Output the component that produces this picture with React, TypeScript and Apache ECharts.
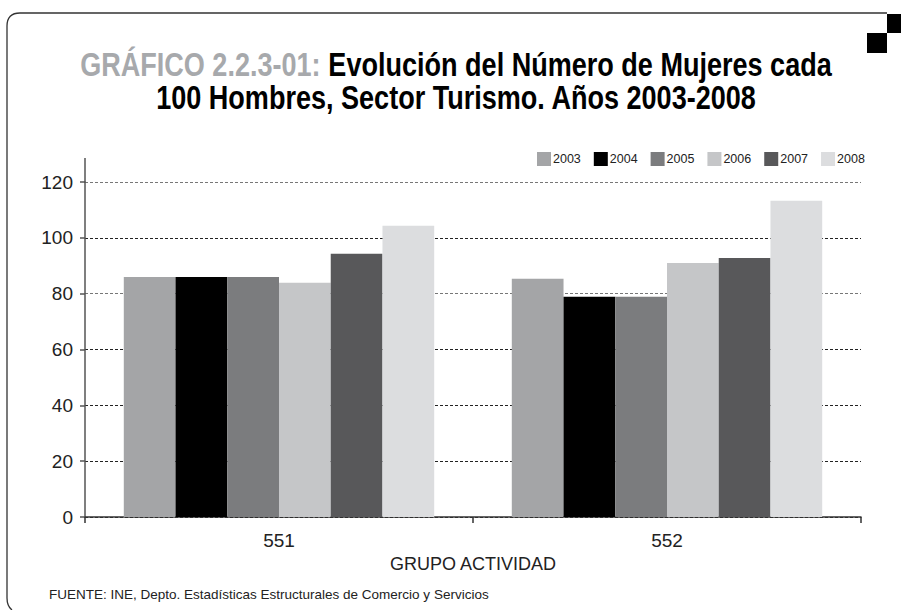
import React, { useEffect, useRef } from "react";
import * as echarts from "echarts";

const categories = ["551", "552"];
const years = ["2003", "2004", "2005", "2006", "2007", "2008"];
const v2003 = [86.0, 85.3];
const v2004 = [86.0, 78.9];
const v2005 = [86.0, 78.9];
const v2006 = [83.9, 91.0];
const v2007 = [94.3, 92.8];
const v2008 = [104.3, 113.3];
const seriesValues = [v2003, v2004, v2005, v2006, v2007, v2008];
const colors = ["#a4a5a7", "#000000", "#7b7c7e", "#c5c6c8", "#58585a", "#dcdddf"];
const yTicks = [0, 20, 40, 60, 80, 100, 120];

const SANS = '"Liberation Sans", Arial, sans-serif';

let registered = false;

export default function App() {
  const ref = useRef<HTMLDivElement>(null);
  useEffect(() => {
    if (!ref.current) return;
    if (!registered) {
      echarts.graphic.registerShape(
        "frame",
        echarts.graphic.extendPath("M12 610 Q7 606 7 598 L7 26 Q7 13 20 13 L887 13", {})
      );
      registered = true;
    }
    const chart = echarts.init(ref.current, null, { renderer: "svg" });
    chart.setOption({
      animation: false,
      backgroundColor: "#ffffff",
      legend: {
        left: 532,
        top: 147,
        itemWidth: 14,
        itemHeight: 14,
        itemGap: 13,
        icon: "rect",
        data: years,
        textStyle: { fontFamily: SANS, fontSize: 12.5, color: "#222", padding: [0, 0, 0, -3] },
      },
      grid: { left: 85, right: 40, top: 182, bottom: 93, containLabel: false },
      xAxis: {
        type: "category",
        data: categories,
        name: "GRUPO ACTIVIDAD",
        nameLocation: "middle",
        nameGap: 28,
        nameTextStyle: { fontFamily: SANS, fontSize: 18, color: "#222" },
        axisLine: { lineStyle: { color: "#333", width: 1.5 } },
        axisTick: { show: true, length: 6, lineStyle: { color: "#333", width: 1.5 } },
        axisLabel: { fontFamily: SANS, fontSize: 19, color: "#222", margin: 14 },
      },
      yAxis: {
        type: "value",
        min: 0,
        max: 120,
        interval: 20,
        axisLine: { show: true, lineStyle: { color: "#555", width: 1.5 } },
        axisTick: { show: true, length: 5, lineStyle: { color: "#555", width: 1.5 } },
        axisLabel: {
          fontFamily: SANS,
          fontSize: 19,
          color: "#222",
          margin: 12,
          formatter: (v: number) => (yTicks.includes(v) ? String(v) : ""),
        },
        splitLine: {
          show: true,
          lineStyle: {
            type: [3, 2],
            width: 1,
            color: ["#222", "#222", "#222", "#222", "#777", "#222", "#777"],
          },
        },
      },
      series: years.map((y, i) => ({
        name: y,
        type: "bar",
        data: seriesValues[i],
        itemStyle: { color: colors[i] },
        barGap: "0%",
        barCategoryGap: "20%",
      })),
      graphic: [
        { type: "frame", x: 0, y: 0, style: { fill: "none", stroke: "#333", lineWidth: 1.3 } },
        { type: "rect", shape: { x: 887, y: 14, width: 14, height: 19 }, style: { fill: "#000" } },
        { type: "rect", shape: { x: 867, y: 33, width: 20, height: 20 }, style: { fill: "#000" } },
        { type: "line", shape: { x1: 85, y1: 158, x2: 85, y2: 183 }, style: { stroke: "#555", lineWidth: 1.5 } },
        {
          type: "text",
          x: 456,
          y: 65,
          scaleX: 0.82,
          style: {
            text: "{g|GRÁFICO 2.2.3-01:} {b|Evolución del Número de Mujeres cada}",
            align: "center",
            verticalAlign: "middle",
            rich: {
              g: { fill: "#a7a9ac", fontFamily: SANS, fontWeight: "bold", fontSize: 33 },
              b: { fill: "#000", fontFamily: SANS, fontWeight: "bold", fontSize: 33 },
            },
            fontFamily: SANS,
            fontWeight: "bold",
            fontSize: 33,
          },
        },
        {
          type: "text",
          x: 456,
          y: 98,
          scaleX: 0.82,
          style: {
            text: "100 Hombres, Sector Turismo. Años 2003-2008",
            align: "center",
            verticalAlign: "middle",
            fill: "#000",
            fontFamily: SANS,
            fontWeight: "bold",
            fontSize: 33,
          },
        },
        {
          type: "text",
          x: 49,
          y: 594,
          style: {
            text: "FUENTE: INE, Depto. Estadísticas Estructurales de Comercio y Servicios",
            verticalAlign: "middle",
            fill: "#222",
            fontFamily: SANS,
            fontSize: 13.5,
          },
        },
      ],
    });
    return () => chart.dispose();
  }, []);
  return <div ref={ref} style={{ width: 901, height: 610, position: "absolute", left: 0, top: 0 }} />;
}
